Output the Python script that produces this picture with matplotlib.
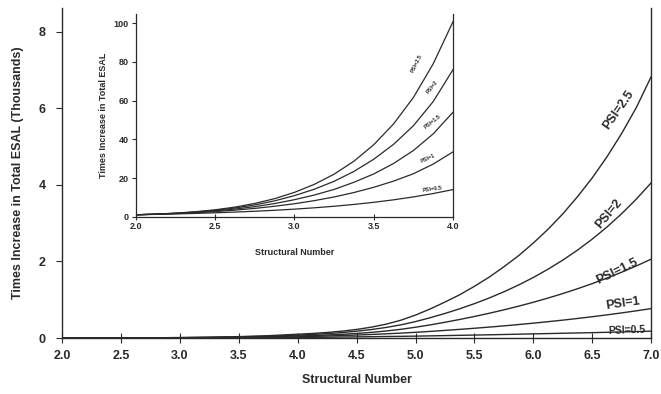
import matplotlib
matplotlib.use("Agg")
import matplotlib.pyplot as plt

plt.rcParams['font.family'] = ['Liberation Sans', 'DejaVu Sans']
plt.rcParams['font.weight'] = 'bold'

# structural number, main chart (values in thousands)
sn = [2.0, 2.25, 2.5, 2.75, 3.0, 3.25, 3.5, 3.75,
      4.0, 4.125, 4.25, 4.375, 4.5, 4.625, 4.75, 4.875,
      5.0, 5.125, 5.25, 5.375, 5.5, 5.625, 5.75, 5.875,
      6.0, 6.125, 6.25, 6.375, 6.5, 6.625, 6.75, 6.875, 7.0]
psi25 = [0.001, 0.0018, 0.0036, 0.0069, 0.0126, 0.022, 0.0372, 0.0616,
         0.1, 0.12, 0.146, 0.18, 0.225, 0.284, 0.362, 0.465,
         0.6, 0.76, 0.94, 1.13, 1.35, 1.59, 1.86, 2.15,
         2.48, 2.84, 3.24, 3.69, 4.18, 4.73, 5.34, 6.02, 6.82]
psi2 = [0.001, 0.0018, 0.0033, 0.0061, 0.0109, 0.0183, 0.0297, 0.047,
        0.076, 0.0938, 0.1161, 0.1439, 0.1787, 0.2222, 0.2765, 0.3444,
        0.4293, 0.531, 0.642, 0.764, 0.898, 1.045, 1.207, 1.385,
        1.581, 1.797, 2.034, 2.295, 2.582, 2.898, 3.246, 3.629, 4.05]
psi15 = [0.001, 0.0017, 0.003, 0.0052, 0.0088, 0.0141, 0.0221, 0.0342,
         0.054, 0.0655, 0.0799, 0.0979, 0.1204, 0.1485, 0.1837, 0.2277,
         0.2827, 0.344, 0.412, 0.485, 0.563, 0.647, 0.736, 0.832,
         0.934, 1.044, 1.161, 1.287, 1.421, 1.565, 1.719, 1.883, 2.059]
psi1 = [0.001, 0.0016, 0.0027, 0.0043, 0.0067, 0.0102, 0.0152, 0.0222,
        0.0335, 0.043, 0.0536, 0.0655, 0.0788, 0.0937, 0.1104, 0.1291,
        0.15, 0.174, 0.1996, 0.2267, 0.2554, 0.2858, 0.3181, 0.3523,
        0.3886, 0.427, 0.4677, 0.5109, 0.5567, 0.6052, 0.6566, 0.7111, 0.7689]
psi05 = [0.001, 0.0014, 0.002, 0.0028, 0.0039, 0.0054, 0.0074, 0.0102,
         0.014, 0.018, 0.022, 0.0265, 0.031, 0.0355, 0.0405, 0.045,
         0.05, 0.057, 0.064, 0.071, 0.078, 0.085, 0.093, 0.101,
         0.109, 0.117, 0.125, 0.133, 0.141, 0.15, 0.159, 0.169, 0.18]

# inset (times increase)
sn_in = [2.0, 2.125, 2.25, 2.375, 2.5, 2.625, 2.75, 2.875, 3.0,
         3.125, 3.25, 3.375, 3.5, 3.625, 3.75, 3.875, 4.0]
psi25_in = [1, 1.34, 1.84, 2.57, 3.57, 4.97, 6.87, 9.33, 12.58,
            16.72, 21.98, 28.7, 37.2, 47.95, 61.6, 79.0, 100.8]
psi2_in = [1, 1.32, 1.78, 2.42, 3.3, 4.5, 6.1, 8.2, 10.9,
           14.2, 18.3, 23.4, 29.7, 37.4, 47.0, 59.5, 76.0]
psi15_in = [1, 1.3, 1.72, 2.28, 3.0, 3.95, 5.2, 6.8, 8.8,
            11.2, 14.1, 17.8, 22.1, 27.5, 34.2, 42.8, 54.0]
psi1_in = [1, 1.25, 1.6, 2.05, 2.65, 3.4, 4.3, 5.4, 6.7,
           8.3, 10.2, 12.5, 15.2, 18.4, 22.2, 27.2, 33.5]
psi05_in = [1, 1.2, 1.43, 1.7, 2.02, 2.39, 2.82, 3.32, 3.91,
            4.6, 5.4, 6.34, 7.44, 8.72, 10.22, 11.97, 14.02]

labels = ["PSI=2.5", "PSI=2", "PSI=1.5", "PSI=1", "PSI=0.5"]

xticks = [2.0, 2.5, 3.0, 3.5, 4.0, 4.5, 5.0, 5.5, 6.0, 6.5, 7.0]
xtick_labels = ["2.0", "2.5", "3.0", "3.5", "4.0", "4.5", "5.0", "5.5", "6.0", "6.5", "7.0"]
yticks = [0, 2, 4, 6, 8]
xticks_in = [2.0, 2.5, 3.0, 3.5, 4.0]
xtick_labels_in = ["2.0", "2.5", "3.0", "3.5", "4.0"]
yticks_in = [0, 20, 40, 60, 80, 100]

ink = '#2a2a2a'

fig = plt.figure(figsize=(6.61, 3.94), dpi=100)

ax = fig.add_axes([0.094, 0.142, 0.891, 0.838])
for ys in [psi25, psi2, psi15, psi1, psi05]:
    ax.plot(sn, ys, color=ink, lw=1.0)
ax.set_xlim(2, 7)
ax.set_ylim(0, 8.62)
ax.set_xticks(xticks)
ax.set_xticklabels(xtick_labels)
ax.set_yticks(yticks)
ax.spines['top'].set_visible(False)
for s in ['left', 'right', 'bottom']:
    ax.spines[s].set_color(ink)
    ax.spines[s].set_linewidth(1.0)
ax.tick_params(axis='x', direction='inout', length=7, pad=5, labelsize=9, colors=ink)
ax.tick_params(axis='y', direction='out', length=4, pad=8, labelsize=9, colors=ink)
ax.set_xlabel("Structural Number", fontsize=9, fontweight='bold', color=ink, labelpad=9)
ax.set_ylabel("Times Increase in Total ESAL (Thousands)", fontsize=9, fontweight='bold',
              color=ink, labelpad=10)

# curve labels on the main chart
main_pos = [(6.72, 5.95, 55, 9), (6.64, 3.25, 50, 9), (6.71, 1.75, 26, 9),
            (6.76, 0.89, 8, 9), (6.79, 0.2, 2, 7.5)]
for lab, (x, y, rot, fs) in zip(labels, main_pos):
    ax.text(x, y, lab, rotation=rot, rotation_mode='anchor', ha='center', va='center',
            fontsize=fs, fontweight='bold', color=ink)

# inset
ax2 = fig.add_axes([0.2057, 0.45, 0.4796, 0.5145])
for ys in [psi25_in, psi2_in, psi15_in, psi1_in, psi05_in]:
    ax2.plot(sn_in, ys, color=ink, lw=0.9)
ax2.set_xlim(2, 4)
ax2.set_ylim(0, 104.8)
ax2.set_xticks(xticks_in)
ax2.set_xticklabels(xtick_labels_in)
ax2.set_yticks(yticks_in)
ax2.spines['top'].set_visible(False)
for s in ['left', 'right', 'bottom']:
    ax2.spines[s].set_color(ink)
    ax2.spines[s].set_linewidth(0.9)
ax2.tick_params(axis='x', direction='inout', length=4, pad=2, labelsize=6.5, colors=ink)
ax2.tick_params(axis='y', direction='out', length=3, pad=2, labelsize=6.5, colors=ink)
ax2.set_xlabel("Structural Number", fontsize=6.5, fontweight='bold', color=ink, labelpad=12)
ax2.set_ylabel("Times Increase in Total ESAL", fontsize=6.5, fontweight='bold',
               color=ink, labelpad=4)

inset_pos = [(3.77, 79, 64), (3.87, 67, 52), (3.87, 49, 38), (3.84, 30, 25), (3.87, 14.5, 8)]
for lab, (x, y, rot) in zip(labels, inset_pos):
    ax2.text(x, y, lab, rotation=rot, rotation_mode='anchor', ha='center', va='center',
             fontsize=4, fontweight='bold', color=ink)

fig.savefig("out.png", dpi=100)
